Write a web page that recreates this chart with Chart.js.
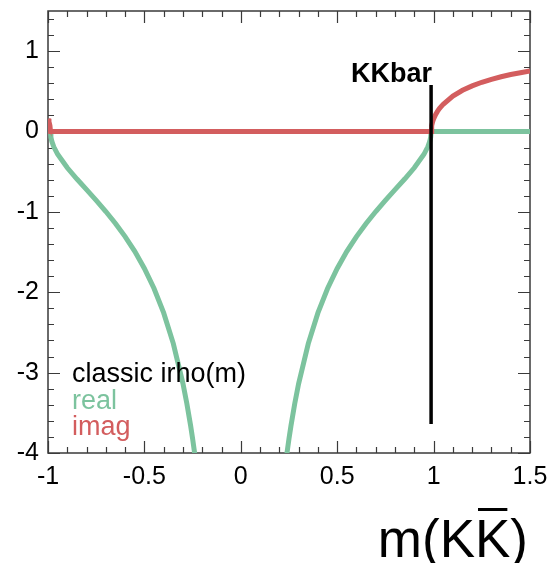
<!DOCTYPE html>
<html>
<head>
<meta charset="utf-8">
<script src="https://cdn.jsdelivr.net/npm/chart.js@4.4.0/dist/chart.umd.min.js"></script>
<style>
  body { margin: 0; background: #fff; }
  canvas { display: block; }
</style>
</head>
<body>
<canvas id="rhoChart" width="550" height="563"></canvas>
<script>
// sampled masses and the two parts of i*rho(m)
const massGrid = [-1, -0.995, -0.99, -0.987, -0.985, -0.98, -0.97, -0.95, -0.9, -0.85, -0.8, -0.75,
  -0.7, -0.65, -0.6, -0.55, -0.5, -0.45, -0.4, -0.35, -0.3, -0.28, -0.26, -0.25, -0.24, -0.23,
  0,
  0.23, 0.24, 0.25, 0.26, 0.28, 0.3, 0.35, 0.4, 0.45, 0.5, 0.55, 0.6, 0.65, 0.7, 0.75, 0.8,
  0.85, 0.9, 0.95, 0.97, 0.98, 0.985, 0.987, 0.99, 0.995, 1, 1.01, 1.02, 1.03, 1.05, 1.1,
  1.15, 1.2, 1.25, 1.3, 1.35, 1.4, 1.45, 1.5];

const realPart = [0, 0, 0, 0, -0.07, -0.123, -0.19, -0.283, -0.451, -0.591, -0.723, -0.856,
  -0.995, -1.144, -1.307, -1.491, -1.703, -1.953, -2.257, -2.638, -3.136, -3.382, -3.664, -3.821, -3.991, -4.175,
  null,
  -4.175, -3.991, -3.821, -3.664, -3.382, -3.136, -2.638, -2.257, -1.953, -1.703, -1.491, -1.307, -1.144, -0.995, -0.856, -0.723,
  -0.591, -0.451, -0.283, -0.19, -0.123, -0.07, 0, 0, 0, 0, 0, 0, 0, 0, 0,
  0, 0, 0, 0, 0, 0, 0, 0];

const imagPart = [0.158, 0.123, 0.072, 0, 0, 0, 0, 0, 0, 0, 0, 0,
  0, 0, 0, 0, 0, 0, 0, 0, 0, 0, 0, 0, 0, 0,
  0,
  0, 0, 0, 0, 0, 0, 0, 0, 0, 0, 0, 0, 0, 0, 0, 0,
  0, 0, 0, 0, 0, 0, 0, 0.072, 0.123, 0.158, 0.21, 0.251, 0.285, 0.34, 0.441,
  0.513, 0.568, 0.613, 0.65, 0.682, 0.709, 0.732, 0.753];

const thresholdMass = 0.987;
const thresholdSpan = [-3.64, 0.58];

const xTickValues = [-1, -0.5, 0, 0.5, 1, 1.5];
const yTickValues = [-4, -3, -2, -1, 0, 1];

const green = '#7cc39e';
const red = '#d35d5e';
const face = '"Liberation Sans", Arial, Helvetica, sans-serif';

const toPoints = vals => massGrid.map((m, i) => ({ x: m, y: vals[i] }));

// frame with inward ticks on all four sides
const framePlugin = {
  id: 'frame',
  beforeDatasetsDraw(chart) {
    const { ctx, chartArea: a, scales: { x, y } } = chart;
    ctx.save();
    ctx.strokeStyle = '#3a3a3a';
    ctx.lineWidth = 1.5;
    ctx.strokeRect(a.left, a.top, a.right - a.left, a.bottom - a.top);
    ctx.lineWidth = 1.2;
    ctx.beginPath();
    for (let i = 0; i <= 25; i++) {
      const v = -1 + i * 0.1;
      const px = Math.round(x.getPixelForValue(v)) + 0.5;
      const len = i % 5 === 0 ? 12 : 6;
      ctx.moveTo(px, a.bottom); ctx.lineTo(px, a.bottom - len);
      ctx.moveTo(px, a.top); ctx.lineTo(px, a.top + len);
    }
    for (let i = 0; i <= 27; i++) {
      const v = -4 + i * 0.2;
      const py = Math.round(y.getPixelForValue(v)) + 0.5;
      const len = i % 5 === 0 ? 12 : 6;
      ctx.moveTo(a.left, py); ctx.lineTo(a.left + len, py);
      ctx.moveTo(a.right, py); ctx.lineTo(a.right - len, py);
    }
    ctx.stroke();
    ctx.restore();
  },
  afterDraw(chart) {
    const { ctx, scales: { x, y } } = chart;
    ctx.save();
    ctx.textBaseline = 'alphabetic';

    // threshold label
    ctx.font = 'bold 27px ' + face;
    ctx.fillStyle = '#000';
    ctx.textAlign = 'right';
    ctx.fillText('KKbar', x.getPixelForValue(thresholdMass) + 1, y.getPixelForValue(0.62));

    // legend text
    ctx.textAlign = 'left';
    ctx.font = '27px ' + face;
    ctx.fillStyle = '#000';
    ctx.fillText('classic irho(m)', 72, 382);
    ctx.fillStyle = green;
    ctx.fillText('real', 72, 409);
    ctx.fillStyle = red;
    ctx.fillText('imag', 72, 435);

    // axis title m(K Kbar)
    ctx.font = '53px ' + face;
    ctx.fillStyle = '#000';
    const parts = ['m(K', 'K', ')'];
    const widths = parts.map(p => ctx.measureText(p).width);
    const total = widths.reduce((s, w) => s + w, 0);
    let cx = 528 - total;
    const base = 557;
    ctx.fillText(parts[0], cx, base);
    cx += widths[0];
    ctx.fillText(parts[1], cx, base);
    ctx.fillRect(cx + 3, base - 49, widths[1] - 6, 3);
    cx += widths[1];
    ctx.fillText(parts[2], cx, base);
    ctx.restore();
  }
};

const noEdgePadding = s => {
  s.paddingTop = 0; s.paddingBottom = 0; s.paddingLeft = 0; s.paddingRight = 0;
};

new Chart(document.getElementById('rhoChart'), {
  type: 'scatter',
  data: {
    datasets: [
      {
        label: 'threshold',
        data: thresholdSpan.map(v => ({ x: thresholdMass, y: v })),
        showLine: true,
        borderColor: '#000',
        borderWidth: 3.5,
        pointRadius: 0
      },
      {
        label: 'imag',
        data: toPoints(imagPart),
        showLine: true,
        borderColor: red,
        borderWidth: 5,
        pointRadius: 0,
        tension: 0
      },
      {
        label: 'real',
        data: toPoints(realPart),
        showLine: true,
        borderColor: green,
        borderWidth: 5,
        pointRadius: 0,
        tension: 0,
        spanGaps: false
      }
    ]
  },
  options: {
    responsive: false,
    animation: false,
    devicePixelRatio: 1,
    layout: { padding: { top: 11, right: 20, left: 0, bottom: 0 } },
    plugins: { legend: { display: false }, tooltip: { enabled: false } },
    scales: {
      x: {
        type: 'linear',
        min: -1,
        max: 1.5,
        afterBuildTicks: s => { s.ticks = xTickValues.map(v => ({ value: v })); },
        afterFit: s => { s.height = 110; noEdgePadding(s); },
        grid: { display: false, drawTicks: false },
        border: { display: false },
        ticks: {
          font: { family: face, size: 25 },
          color: '#000',
          padding: 9,
          maxRotation: 0,
          autoSkip: false,
          callback: v => String(v)
        }
      },
      y: {
        type: 'linear',
        min: -4,
        max: 1.5,
        afterBuildTicks: s => { s.ticks = yTickValues.map(v => ({ value: v })); },
        afterFit: s => { s.width = 48; noEdgePadding(s); },
        grid: { display: false, drawTicks: false },
        border: { display: false },
        ticks: {
          font: { family: face, size: 25 },
          color: '#000',
          padding: 9,
          autoSkip: false,
          callback: v => String(v)
        }
      }
    }
  },
  plugins: [framePlugin]
});
</script>
</body>
</html>
